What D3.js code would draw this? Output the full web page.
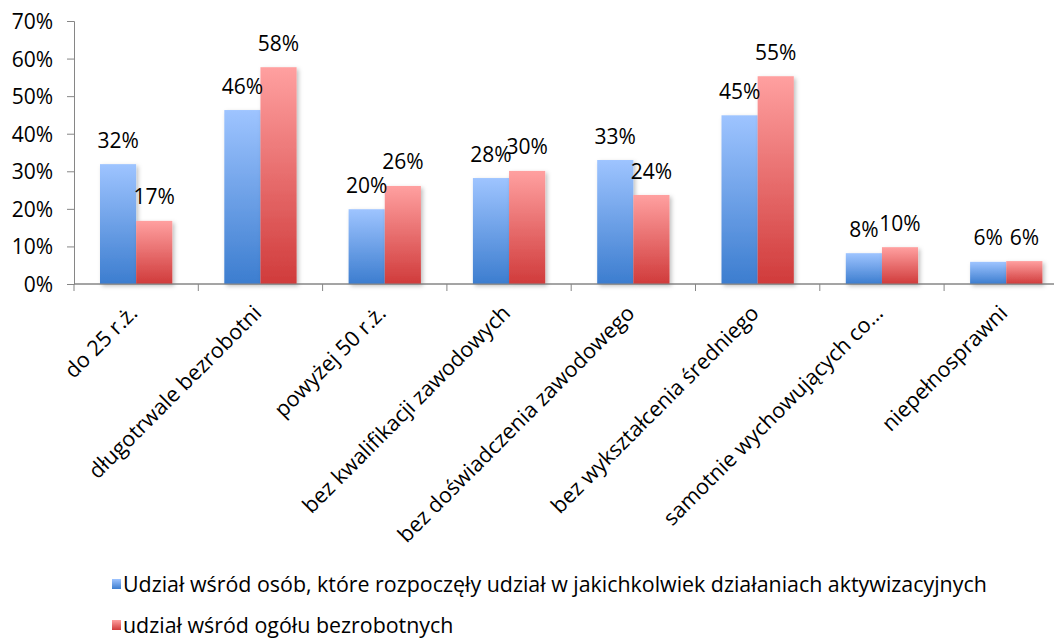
<!DOCTYPE html>
<html>
<head>
<meta charset="utf-8">
<script src="https://cdn.jsdelivr.net/npm/d3@7"></script>
<style>
    body { margin: 0; background: #fff; }
    text { font-family: "Open Sans", sans-serif; fill: #000; }
    .axis line, .axis path { stroke: #868686; }
</style>
</head>
<body>
<div id="chart"></div>
<script>
// chart data
const categories = ["do 25 r.ż.", "długotrwale bezrobotni", "powyżej 50 r.ż.", "bez kwalifikacji zawodowych",
    "bez doświadczenia zawodowego", "bez wykształcenia średniego", "samotnie wychowujących co…", "niepełnosprawni"];
const seriesNames = ["Udział wśród osób, które rozpoczęły udział w jakichkolwiek działaniach aktywizacyjnych",
    "udział wśród ogółu bezrobotnych"];
const aktywizowani = [0.319, 0.463, 0.199, 0.282, 0.330, 0.449, 0.082, 0.059];
const ogol = [0.168, 0.577, 0.261, 0.301, 0.237, 0.553, 0.098, 0.061];
const yTicks = [0, 0.1, 0.2, 0.3, 0.4, 0.5, 0.6, 0.7];

const w = 1054, h = 639;
const padLeft = 74, base = 284, padTop = 21;
const bandW = 124.3;

let svg = d3.select("#chart").append("svg")
    .attr("width", w)
    .attr("height", h);

// gradients + shadow
let defs = svg.append("defs");
const grads = [["gBlue", "#9ec4ff", "#3c7dcf"], ["gRed", "#ffa0a0", "#d03b3b"]];
grads.forEach(function(g) {
    let lg = defs.append("linearGradient").attr("id", g[0])
        .attr("x1", 0).attr("y1", 0).attr("x2", 0).attr("y2", 1);
    lg.append("stop").attr("offset", "0%").attr("stop-color", g[1]);
    lg.append("stop").attr("offset", "100%").attr("stop-color", g[2]);
});
let f = defs.append("filter").attr("id", "shadow")
    .attr("x", "-20%").attr("y", "-20%").attr("width", "150%").attr("height", "150%");
f.append("feDropShadow").attr("dx", 2).attr("dy", 2).attr("stdDeviation", 2)
    .attr("flood-color", "#000").attr("flood-opacity", 0.25);

// scales
var xScale = d3.scaleBand().domain(categories).range([padLeft, padLeft + bandW * categories.length]);
var x1 = d3.scaleBand().domain([0, 1]).range([26, bandW - 26]);
var yScale = d3.scaleLinear().domain([0, 0.7]).range([base, padTop]);

// y axis
let yAxis = svg.append("g").attr("class", "axis")
    .attr("transform", "translate(" + padLeft + ",0)")
    .call(d3.axisLeft(yScale).tickValues(yTicks).tickFormat(d3.format(".0%")).tickSize(7).tickPadding(14));
yAxis.selectAll("text").style("font-size", "21px").attr("dy", "0.36em");

// x axis
let xAxis = svg.append("g").attr("class", "axis")
    .attr("transform", "translate(0," + base + ")");
xAxis.append("line").attr("x1", padLeft).attr("x2", w).attr("y1", 0).attr("y2", 0);
xAxis.selectAll("line.tick")
    .data(d3.range(categories.length + 1))
    .join("line").attr("class", "tick")
    .attr("x1", d => padLeft + d * bandW).attr("x2", d => padLeft + d * bandW)
    .attr("y1", 0).attr("y2", 7);

// bars
const series = [aktywizowani, ogol];
let groups = svg.append("g");
series.forEach(function(vals, s) {
    groups.selectAll("rect.s" + s)
        .data(vals)
        .join("rect").attr("class", "s" + s)
        .attr("x", (d, i) => xScale(categories[i]) + x1(s))
        .attr("width", x1.bandwidth())
        .attr("y", d => yScale(d))
        .attr("height", d => base - yScale(d))
        .attr("fill", "url(#" + grads[s][0] + ")")
        .attr("filter", "url(#shadow)");
});

// redraw baseline over shadows
svg.append("line").attr("class", "axis")
    .attr("x1", padLeft).attr("x2", w).attr("y1", base).attr("y2", base)
    .attr("stroke", "#868686");

// data labels
series.forEach(function(vals, s) {
    svg.selectAll("text.lab" + s)
        .data(vals)
        .join("text").attr("class", "lab" + s)
        .attr("x", (d, i) => xScale(categories[i]) + x1(s) + x1.bandwidth() / 2)
        .attr("y", d => yScale(d) - 24)
        .attr("dy", "0.36em")
        .attr("text-anchor", "middle")
        .style("font-size", "21px")
        .text(d => Math.round(d * 100) + "%");
});

// category labels
svg.selectAll("text.cat")
    .data(categories)
    .join("text").attr("class", "cat")
    .attr("transform", d => "translate(" + (xScale(d) + bandW / 2 - 3) + "," + (base + 25) + ") rotate(-45)")
    .attr("text-anchor", "end")
    .attr("dy", "0.36em")
    .style("font-size", "21.5px")
    .text(d => d);

// legend
let legend = svg.append("g");
seriesNames.forEach(function(name, s) {
    let ly = 584 + s * 41;
    legend.append("rect")
        .attr("x", 112).attr("y", ly - 5)
        .attr("width", 9).attr("height", 10)
        .attr("fill", "url(#" + grads[s][0] + ")");
    legend.append("text")
        .attr("x", 123).attr("y", ly)
        .attr("dy", "0.36em")
        .style("font-size", "21.4px")
        .text(name);
});
</script>
</body>
</html>
